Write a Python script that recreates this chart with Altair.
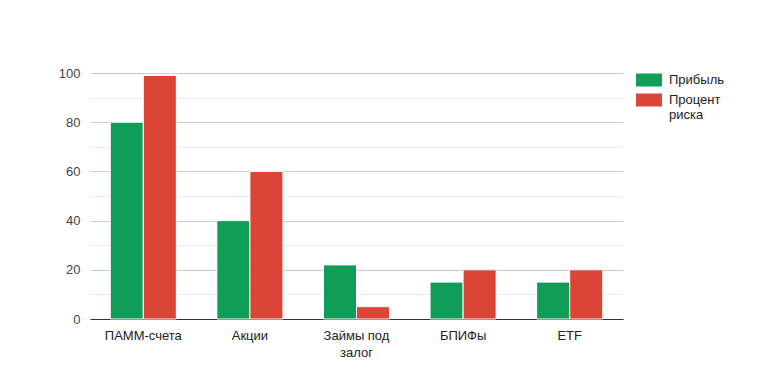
import altair as alt
import pandas as pd

categories = ["ПАММ-счета", "Акции", "Займы под залог", "БПИФы", "ETF"]
profit = [80, 40, 22, 15, 15]
risk = [99, 60, 5, 20, 20]
series = ["Прибыль", "Процент риска"]
colors = ["#0f9d58", "#db4437"]

rows = []
for c, p, r in zip(categories, profit, risk):
    rows.append({"cat": c, "series": series[0], "value": p})
    rows.append({"cat": c, "series": series[1], "value": r})
df = pd.DataFrame(rows)

font = "Liberation Sans"

chart = alt.Chart(df).mark_bar(stroke="white", strokeWidth=1).encode(
    x=alt.X("cat:N", sort=categories, title=None,
            scale=alt.Scale(paddingInner=0.38, paddingOuter=0.19),
            axis=alt.Axis(labelAngle=0, ticks=False, domainColor="#333333",
                          labelColor="#222222", labelFont=font, labelFontSize=13,
                          labelPadding=10, labelLineHeight=17,
                          labelExpr="datum.label == 'Займы под залог' ? ['Займы под', 'залог'] : datum.label")),
    xOffset=alt.XOffset("series:N", sort=series, scale=alt.Scale(paddingInner=0, paddingOuter=0)),
    y=alt.Y("value:Q", title=None,
            scale=alt.Scale(domain=[0, 100], nice=False),
            axis=alt.Axis(values=list(range(0, 101, 10)), domain=False, ticks=False,
                          labelColor="#444444", labelFont=font, labelFontSize=13,
                          labelPadding=10,
                          labelExpr="datum.value % 20 === 0 ? datum.label : ''",
                          gridColor={"condition": {"test": "datum.value % 20 === 0", "value": "#cccccc"}, "value": "#ebebeb"})),
    color=alt.Color("series:N", sort=series, scale=alt.Scale(domain=series, range=colors),
                    legend=alt.Legend(title=None, orient="none", legendX=546, legendY=-6,
                                      symbolType="M-1,-0.5H1V0.5H-1Z", symbolSize=676,
                                      symbolStrokeWidth=0, symbolOpacity=1,
                                      labelFont=font, labelFontSize=13, labelColor="#222222",
                                      labelOffset=7, rowPadding=0, labelBaseline="middle",
                                      labelExpr="datum.label == 'Процент риска' ? ['Процент', 'риска'] : datum.label")),
).properties(
    width=533, height=246,
    autosize=alt.AutoSizeParams(type="none"),
    padding={"left": 82, "top": 65, "right": 133, "bottom": 59},
).configure_view(stroke=None).configure_axis(gridWidth=1)

chart.save("out.html", embed_options={"renderer": "svg", "actions": False})
